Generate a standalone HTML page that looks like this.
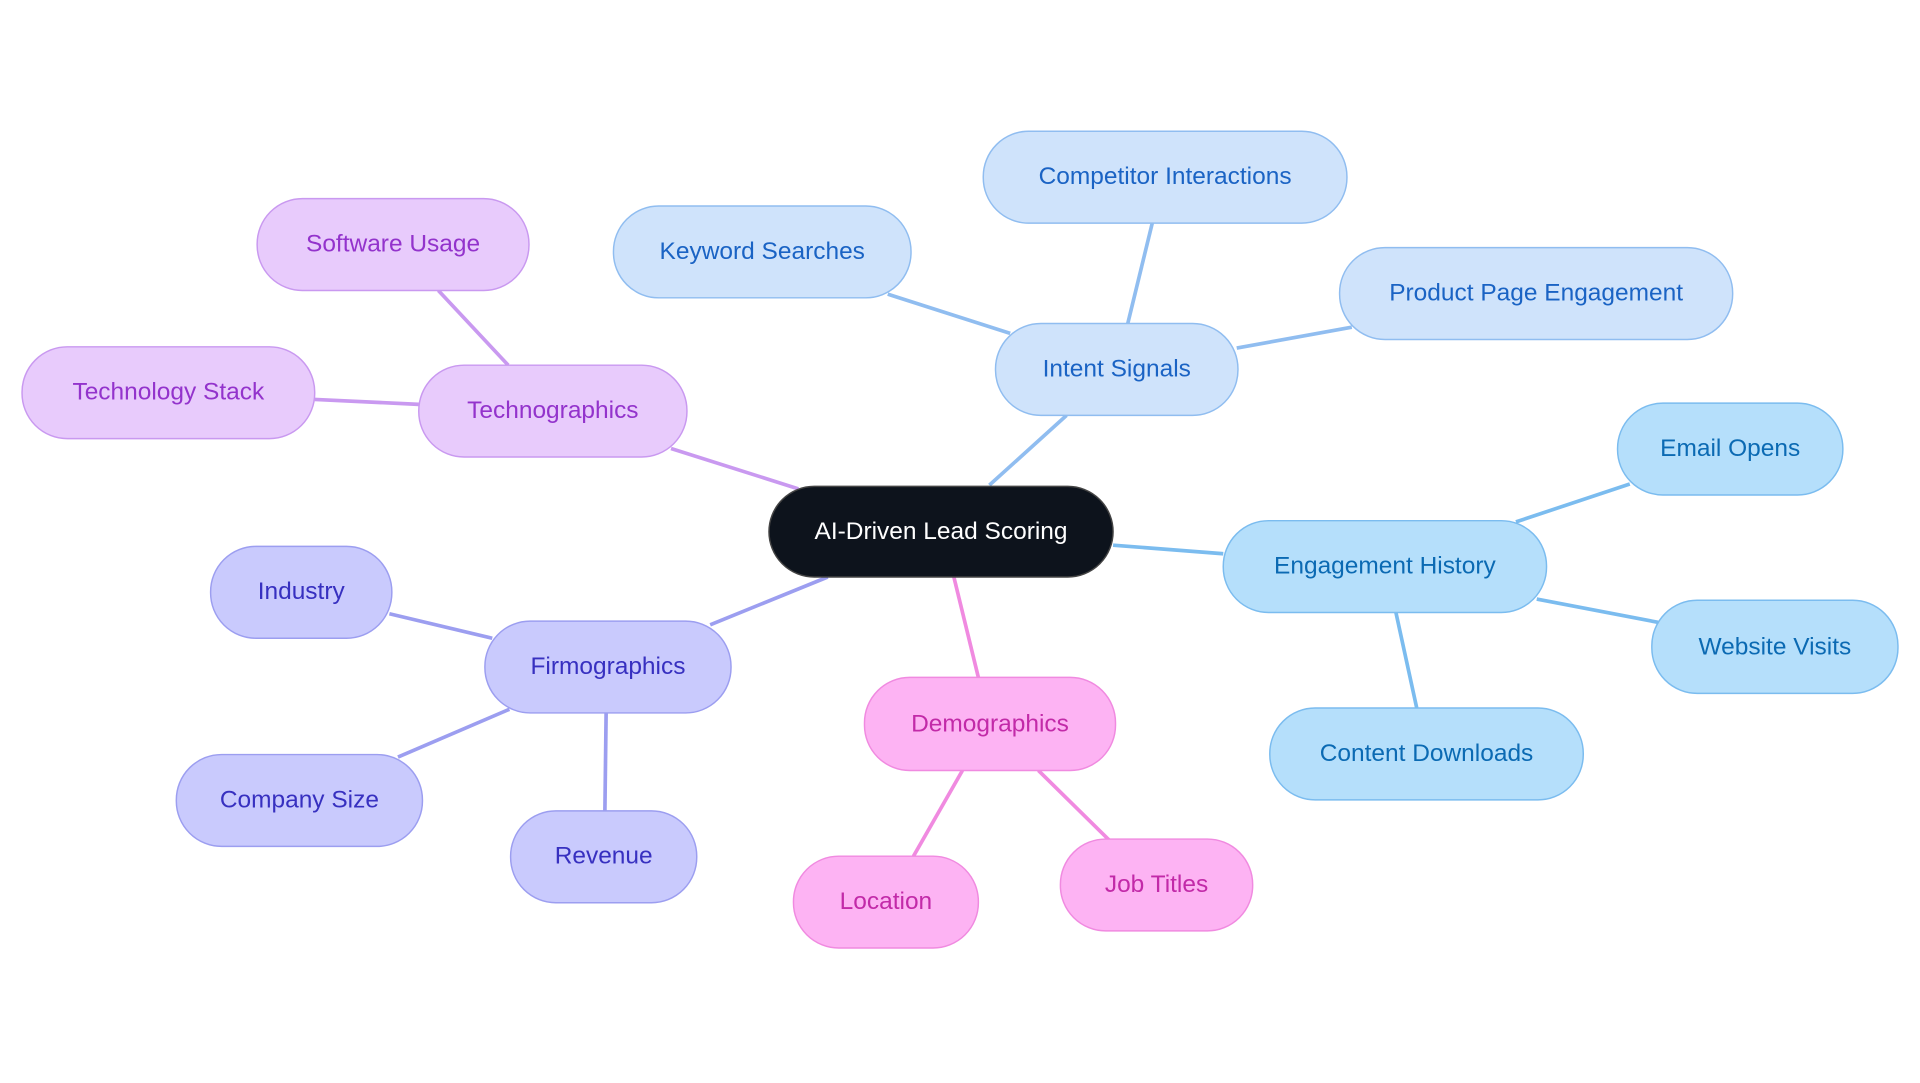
<!DOCTYPE html>
<html><head><meta charset="utf-8"><style>
html,body{margin:0;padding:0;background:#fff;width:1920px;height:1083px;overflow:hidden}
text{font-family:"Liberation Sans",sans-serif;font-size:20px;dominant-baseline:central;text-anchor:middle}
</style></head><body>
<svg width="1920" height="1083" viewBox="0 0 1568 884" xmlns="http://www.w3.org/2000/svg">
<g stroke-width="3" fill="none">
<g stroke="#90bdf0">
<line x1="808" y1="396" x2="871" y2="339"/><line x1="725" y1="240" x2="825" y2="272"/>
<line x1="941" y1="182" x2="921" y2="264"/><line x1="1010" y1="284" x2="1104" y2="267"/></g>
<g stroke="#c999f0">
<line x1="652" y1="399" x2="548" y2="366"/><line x1="358" y1="237" x2="415" y2="298"/><line x1="257" y1="326" x2="342" y2="330"/></g>
<g stroke="#9c9ef0">
<line x1="676" y1="471" x2="580" y2="510"/><line x1="318" y1="501" x2="402" y2="521"/>
<line x1="325" y1="618" x2="416" y2="579"/><line x1="495" y1="582" x2="494" y2="662"/></g>
<g stroke="#f08ae0">
<line x1="779" y1="471" x2="799" y2="553"/><line x1="786" y1="629" x2="746" y2="699"/><line x1="848" y1="629" x2="906" y2="686"/></g>
<g stroke="#7bbcef">
<line x1="909" y1="445" x2="999" y2="452"/><line x1="1238" y1="426" x2="1331" y2="395"/>
<line x1="1255" y1="489" x2="1354" y2="508"/><line x1="1140" y1="500" x2="1157" y2="578"/></g>
</g>
<g stroke-width="1.2">
<rect x="628" y="397" width="281" height="74" rx="37" fill="#0d131c" stroke="#444"/>
<text x="768.5" y="434" fill="#fff">AI-Driven Lead Scoring</text>
<g fill="#cfe3fb" stroke="#90bdf0">
<rect x="813" y="264" width="198" height="75" rx="37"/><rect x="803" y="107" width="297" height="75" rx="37"/>
<rect x="501" y="168" width="243" height="75" rx="37"/><rect x="1094" y="202" width="321" height="75" rx="37"/></g>
<g fill="#1a63c4">
<text x="912" y="301">Intent Signals</text><text x="951.5" y="144">Competitor Interactions</text>
<text x="622.5" y="205">Keyword Searches</text><text x="1254.5" y="239">Product Page Engagement</text></g>
<g fill="#e8cbfc" stroke="#c999f0">
<rect x="342" y="298" width="219" height="75" rx="37"/><rect x="210" y="162" width="222" height="75" rx="37"/><rect x="18" y="283" width="239" height="75" rx="37"/></g>
<g fill="#9333cc">
<text x="451.5" y="335">Technographics</text><text x="321" y="199">Software Usage</text><text x="137.5" y="320">Technology Stack</text></g>
<g fill="#c9cafd" stroke="#9c9ef0">
<rect x="396" y="507" width="201" height="75" rx="37"/><rect x="172" y="446" width="148" height="75" rx="37"/>
<rect x="144" y="616" width="201" height="75" rx="37"/><rect x="417" y="662" width="152" height="75" rx="37"/></g>
<g fill="#3730c0">
<text x="496.5" y="544">Firmographics</text><text x="246" y="483">Industry</text>
<text x="244.5" y="653">Company Size</text><text x="493" y="699">Revenue</text></g>
<g fill="#fdb3f3" stroke="#f08ae0">
<rect x="706" y="553" width="205" height="76" rx="37"/><rect x="648" y="699" width="151" height="75" rx="37"/><rect x="866" y="685" width="157" height="75" rx="37"/></g>
<g fill="#c22aa8">
<text x="808.5" y="591">Demographics</text><text x="723.5" y="736">Location</text><text x="944.5" y="722">Job Titles</text></g>
<g fill="#b5dffb" stroke="#7bbcef">
<rect x="999" y="425" width="264" height="75" rx="37"/><rect x="1321" y="329" width="184" height="75" rx="37"/>
<rect x="1349" y="490" width="201" height="76" rx="37"/><rect x="1037" y="578" width="256" height="75" rx="37"/></g>
<g fill="#0b6ab3">
<text x="1131" y="462">Engagement History</text><text x="1413" y="366">Email Opens</text>
<text x="1449.5" y="528">Website Visits</text><text x="1165" y="615">Content Downloads</text></g>
</g>
</svg>
</body></html>
